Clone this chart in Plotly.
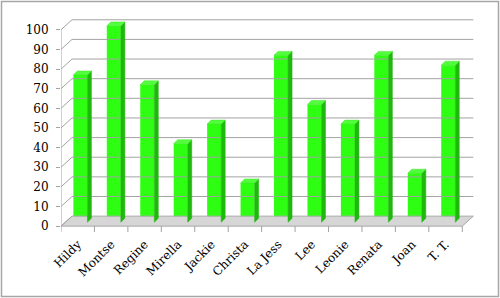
import plotly.graph_objects as go

names = ["Hildy", "Montse", "Regine", "Mirella", "Jackie", "Christa", "La Jess",
         "Lee", "Leonie", "Renata", "Joan", "T. T."]
values = [75, 100, 70, 40, 50, 20, 85, 60, 50, 85, 25, 80]
yticks = [0, 10, 20, 30, 40, 50, 60, 70, 80, 90, 100]

# projection parameters (data units)
DX, DY = 0.33, 5.1      # depth of the wall/floor
SX, SY = 0.08, 2.0      # bar front-face position within depth
W = 0.42                # bar width
BDX, BDY = 0.12, 2.0    # bar depth

n = len(names)
x_lo, x_hi = -0.5, n - 0.5

fig = go.Figure()

# floor
fig.add_trace(go.Scatter(
    x=[x_lo, x_hi, x_hi + DX, x_lo + DX, x_lo],
    y=[0, 0, DY, DY, 0],
    fill="toself", fillcolor="#d6d6d6", mode="lines",
    line=dict(color="#a8a8a8", width=1), hoverinfo="skip", showlegend=False))

# back wall gridlines + diagonals
gx, gy = [], []
for v in yticks[1:]:
    gx += [x_lo + DX, x_hi + DX, None]
    gy += [v + DY, v + DY, None]
fig.add_trace(go.Scatter(x=gx, y=gy, mode="lines",
                         line=dict(color="#a3a3a3", width=1),
                         hoverinfo="skip", showlegend=False))
dx_, dy_ = [], []
for v in yticks:
    dx_ += [x_lo, x_lo + DX, None]
    dy_ += [v, v + DY, None]
fig.add_trace(go.Scatter(x=dx_, y=dy_, mode="lines",
                         line=dict(color="#a3a3a3", width=1),
                         hoverinfo="skip", showlegend=False))

# front vertical axis line
fig.add_trace(go.Scatter(x=[x_lo, x_lo], y=[0, yticks[-1]], mode="lines",
                         line=dict(color="#a3a3a3", width=1),
                         hoverinfo="skip", showlegend=False))

# x tick marks on floor front edge
tx, ty = [], []
for k in range(n + 1):
    tx += [x_lo + k, x_lo + k, None]
    ty += [0, -3, None]
fig.add_trace(go.Scatter(x=tx, y=ty, mode="lines",
                         line=dict(color="#a3a3a3", width=1),
                         hoverinfo="skip", showlegend=False))

# bar side faces
sx_, sy_ = [], []
for i, v in enumerate(values):
    x1 = i + SX + W / 2
    sx_ += [x1, x1 + BDX, x1 + BDX, x1, x1, None]
    sy_ += [SY, SY + BDY, v + SY + BDY, v + SY, SY, None]
fig.add_trace(go.Scatter(x=sx_, y=sy_, fill="toself", fillcolor="#1fb80c",
                         mode="lines", line=dict(color="#1fb80c", width=0.5),
                         hoverinfo="skip", showlegend=False))

# bar top faces
tpx, tpy = [], []
for i, v in enumerate(values):
    x0 = i + SX - W / 2
    x1 = i + SX + W / 2
    tpx += [x0, x1, x1 + BDX, x0 + BDX, x0, None]
    tpy += [v + SY, v + SY, v + SY + BDY, v + SY + BDY, v + SY, None]
fig.add_trace(go.Scatter(x=tpx, y=tpy, fill="toself", fillcolor="#52ff3c",
                         mode="lines", line=dict(color="#40e02a", width=0.5),
                         hoverinfo="skip", showlegend=False))

# bar front faces
fig.add_trace(go.Bar(x=[i + SX for i in range(n)], y=values, base=SY, width=W,
                     marker=dict(color="#2eff12", line=dict(width=0)),
                     showlegend=False))

font = dict(family="DejaVu Serif", size=12, color="#000000")

fig.update_layout(
    width=500, height=298,
    margin=dict(l=61, r=21, t=18, b=64),
    paper_bgcolor="white", plot_bgcolor="white",
    font=font,
    xaxis=dict(range=[x_lo, x_hi + 0.5], tickvals=list(range(n)), ticktext=names,
               tickangle=-45, showgrid=False, zeroline=False, showline=False,
               ticks="", tickfont=font),
    yaxis=dict(range=[-4, 106], tickvals=yticks, showgrid=False, zeroline=False,
               showline=False, ticks="outside", ticklen=4, tickcolor="#a3a3a3",
               ticklabelstandoff=5, tickfont=font),
)
fig.add_shape(type="rect", xref="paper", yref="paper",
              x0=-59.5 / 418, x1=1 + 19.5 / 418, y0=-62.5 / 216, y1=1 + 16.5 / 216,
              line=dict(color="#a6a6a6", width=1.5), layer="above")

fig.write_html("out.html")
